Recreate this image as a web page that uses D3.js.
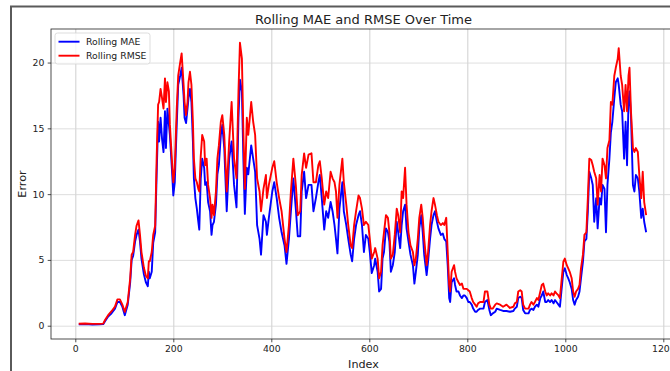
<!DOCTYPE html>
<html lang="en">
<head>
<meta charset="UTF-8">
<script src="https://d3js.org/d3.v7.min.js"></script>
<title>Rolling MAE and RMSE</title>
<style>
  html, body { margin: 0; padding: 0; background: #fff; overflow: hidden; }
  svg { display: block; font-family: "DejaVu Sans", sans-serif; }
</style>
</head>
<body>
<script>
// values (index, rolling MAE, rolling RMSE)
var index = [7,20,35,50,57,61,67,74,81,86,91,96,101,107,112,115,118,122,125,129,132,135,140,144,148,150,152,156,159,163,
  166,169,171,174,177,180,183,185,188,191,193,197,200,203,207,210,214,217,221,223,226,229,231,234,237,240,242,245,248,251,
  253,256,259,263,265,268,271,275,278,280,283,287,290,293,297,300,304,309,314,319,324,329,333,336,340,343,346,350,353,359,
  363,367,371,376,379,384,389,391,395,402,406,411,416,421,427,431,436,440,445,450,454,459,462,467,471,476,482,486,491,496,
  499,503,508,512,516,521,525,529,532,535,539,545,548,553,557,562,565,569,573,578,581,585,589,593,598,601,605,610,612,617,
  620,624,627,630,634,638,641,644,648,652,656,659,663,666,669,673,676,680,684,689,692,695,699,702,706,709,712,717,720,724,
  727,731,734,738,741,746,750,753,757,760,763,765,768,773,775,778,782,785,789,792,795,799,802,805,809,812,816,819,822,826,
  833,836,841,845,848,852,857,860,867,873,880,887,894,897,901,904,908,911,914,918,925,928,931,935,938,942,945,949,952,955,
  959,962,965,969,972,976,979,982,986,989,992,996,999,1003,1006,1009,1013,1016,1019,1022,1026,1029,1032,1036,1039,1043,1046,1049,1053,1056,
  1059,1063,1066,1070,1073,1076,1080,1083,1086,1090,1093,1096,1100,1103,1107,1109,1113,1116,1120,1123,1126,1129,1131,1134,1138,1141,1144,1148,1151,1155,
  1158,1161,1165];

var mae = [0.10,0.12,0.09,0.10,0.12,0.35,0.70,0.95,1.3,1.8,1.8,1.45,0.8,1.6,3.3,5.0,5.3,6.4,6.9,7.3,6.4,5.1,3.9,3.3,3.0,4.1,3.6,4.1,6.3,7.1,
  11.5,15.5,14.0,15.8,14.2,13.2,16.3,13.5,16.5,15.3,14.5,12.0,9.9,10.9,15.3,18.3,19.0,19.6,17.5,15.8,15.4,16.5,17.3,18.0,17.0,14.0,11.2,9.7,8.9,7.9,
  7.3,11.2,12.7,12.0,10.7,10.9,9.4,8.7,6.9,7.65,7.9,9.2,11.5,12.2,14.5,15.25,13.5,8.7,12.7,14.0,10.7,9.0,15.8,18.7,17.8,12.7,8.5,12.0,11.5,13.7,
  12.7,11.7,7.65,6.6,5.4,8.4,7.9,6.9,8.2,10.2,10.9,9.7,8.2,7.1,6.1,4.7,6.6,8.7,11.2,8.9,6.8,6.8,10.2,11.7,9.7,10.7,10.7,8.7,9.7,10.9,
  11.45,9.7,7.3,8.7,8.2,9.4,8.7,7.65,6.6,5.5,8.9,10.9,8.7,7.65,6.6,5.4,4.9,6.6,7.65,8.4,8.7,7.65,5.6,6.9,6.6,5.6,4.0,4.6,5.1,4.1,
  2.6,2.8,5.1,5.6,7.4,7.1,6.4,4.1,4.6,5.6,7.9,7.1,5.9,7.65,8.7,9.2,7.4,6.4,5.4,4.6,3.2,4.1,5.4,7.4,8.4,7.1,5.4,3.85,4.9,6.6,
  7.65,8.4,8.7,7.9,7.4,6.9,7.0,6.6,6.4,4.6,2.1,1.8,3.3,3.6,3.1,2.6,2.6,2.3,2.1,2.3,2.3,2.1,1.8,1.8,1.6,1.3,1.06,1.06,1.2,1.3,
  1.3,1.8,1.95,1.2,0.8,0.94,1.06,1.3,1.2,1.12,1.12,1.06,1.12,1.3,1.44,2.1,2.2,2.1,1.2,0.94,0.94,1.2,1.3,1.2,1.44,1.6,1.44,2.1,2.3,2.6,
  1.8,1.8,1.95,1.8,1.95,1.7,1.95,1.8,1.6,1.44,2.6,4.1,4.36,3.85,3.6,3.3,2.8,1.95,1.6,1.95,2.2,2.6,3.6,4.86,6.4,6.6,8.7,11.7,11.2,10.7,
  7.9,9.7,7.4,9.7,9.2,10.7,10.4,7.1,10.7,12.7,14.7,15.5,17.3,18.5,18.8,18.3,16.8,16.3,12.7,15.5,12.2,17.0,17.8,16.0,10.7,10.2,11.45,11.2,10.2,8.2,
  8.9,7.9,7.1];

var rmse = [0.15,0.17,0.14,0.14,0.16,0.45,0.80,1.1,1.45,2.0,2.0,1.6,1.05,1.8,3.6,5.4,5.6,6.9,7.6,8.0,6.9,5.6,4.4,3.8,3.6,4.9,4.9,5.6,6.9,7.6,
  12.7,16.8,17.0,18.0,17.3,16.5,18.8,17.0,18.5,17.8,15.3,12.7,10.9,12.0,16.5,19.0,20.0,20.7,18.3,17.0,16.0,17.0,18.5,19.3,18.3,15.5,12.7,11.2,10.9,10.4,
  10.2,12.9,14.5,14.0,12.2,12.7,10.7,9.7,8.2,9.2,8.4,10.2,12.7,13.7,15.5,16.0,14.5,10.2,14.0,17.0,12.7,11.2,17.8,21.5,20.3,14.7,10.4,15.8,14.5,17.0,
  15.5,14.5,11.2,10.2,8.7,10.4,11.45,9.7,10.7,12.0,12.5,10.9,9.7,8.7,6.6,5.6,7.65,10.2,12.7,10.7,8.4,8.7,11.45,13.1,12.0,13.0,13.1,10.9,10.9,12.2,
  12.5,11.2,9.2,10.2,9.7,11.7,11.2,10.9,10.2,8.2,10.7,12.7,10.9,9.2,7.65,6.1,5.9,7.65,8.7,9.9,9.7,8.9,7.65,7.9,7.65,6.6,5.1,5.6,5.9,5.1,
  3.6,4.1,6.1,7.1,8.4,8.2,7.1,5.1,5.4,6.9,8.9,8.4,7.1,10.2,9.7,12.0,9.2,7.1,6.1,5.6,4.6,5.1,6.6,8.2,9.2,8.2,6.6,4.6,5.6,7.65,
  8.7,9.7,9.2,8.4,7.9,7.65,7.8,7.65,8.2,5.6,3.1,2.6,4.1,4.6,4.1,3.6,3.3,3.1,3.2,2.8,2.8,2.8,2.7,2.6,2.1,1.8,1.6,1.44,1.7,1.8,
  1.8,2.6,2.6,1.6,1.3,1.3,1.6,1.7,1.6,1.44,1.6,1.35,1.44,1.7,1.8,2.6,2.7,2.6,1.6,1.3,1.3,1.6,1.8,1.6,1.8,2.1,1.95,2.6,3.1,3.2,
  2.6,2.3,2.46,2.3,2.46,2.3,2.6,2.46,2.3,2.1,3.3,4.86,5.1,4.6,4.36,4.1,3.6,2.6,2.2,2.6,2.8,3.1,4.36,5.4,6.9,7.1,9.7,12.7,12.6,12.2,
  11.7,11.2,9.2,11.45,10.2,12.7,12.2,11.2,13.5,14.1,17.0,16.8,19.0,19.6,20.3,21.1,19.0,18.3,16.3,18.3,16.3,19.0,19.6,16.3,13.5,13.2,13.5,13.2,11.45,9.7,
  11.7,9.4,8.4];

var xTicks = [0, 200, 400, 600, 800, 1000, 1200];
var yTicks = [0, 5, 10, 15, 20];
var seriesNames = ["Rolling MAE", "Rolling RMSE"];
var seriesColors = ["#0000ff", "#ff0000"];

var width = 670, height = 371;
var plotLeft = 51, plotRight = 676, plotTop = 29, plotBottom = 339;

var svg = d3.select("body").append("svg")
    .attr("width", width)
    .attr("height", height);

svg.append("rect").attr("width", width).attr("height", height).attr("fill", "#fff");

// frame of the notebook cell
svg.append("path")
    .attr("d", "M11," + height + "V6.5H" + width)
    .attr("fill", "none")
    .attr("stroke", "#5a5a5a")
    .attr("stroke-width", 2);

var x = d3.scaleLinear().domain([-49.6, 1225.9]).range([plotLeft, plotRight]);
var y = d3.scaleLinear().domain([-1.01, 22.55]).range([plotBottom, plotTop]);

// grid
svg.append("g")
    .attr("transform", "translate(0," + plotBottom + ")")
    .call(d3.axisBottom(x).tickValues(xTicks).tickSize(-(plotBottom - plotTop)).tickFormat(""))
    .call(function (g) { g.select(".domain").remove(); })
    .selectAll("line").attr("stroke", "#c4c4c4").attr("stroke-width", 0.8);

svg.append("g")
    .attr("transform", "translate(" + plotLeft + ",0)")
    .call(d3.axisLeft(y).tickValues(yTicks).tickSize(-(plotRight - plotLeft)).tickFormat(""))
    .call(function (g) { g.select(".domain").remove(); })
    .selectAll("line").attr("stroke", "#d6d6d6").attr("stroke-width", 0.8);

// lines
var line = d3.line()
    .x(function (d) { return x(d[0]); })
    .y(function (d) { return y(d[1]); });

[mae, rmse].forEach(function (vals, k) {
    svg.append("path")
        .datum(index.map(function (ix, i) { return [ix, vals[i]]; }))
        .attr("d", line)
        .attr("fill", "none")
        .attr("stroke", seriesColors[k])
        .attr("stroke-width", 1.9)
        .attr("stroke-linejoin", "round");
});

// spines
svg.append("rect")
    .attr("x", plotLeft).attr("y", plotTop)
    .attr("width", plotRight - plotLeft).attr("height", plotBottom - plotTop)
    .attr("fill", "none")
    .attr("stroke", "#222")
    .attr("stroke-width", 0.8);

// axes
var xAxis = svg.append("g")
    .attr("transform", "translate(0," + plotBottom + ")")
    .call(d3.axisBottom(x).tickValues(xTicks).tickFormat(d3.format("d")).tickSize(3.3).tickPadding(3.3));
var yAxis = svg.append("g")
    .attr("transform", "translate(" + plotLeft + ",0)")
    .call(d3.axisLeft(y).tickValues(yTicks).tickFormat(d3.format("d")).tickSize(3.3).tickPadding(3.3));

[xAxis, yAxis].forEach(function (g) {
    g.select(".domain").remove();
    g.selectAll("line").attr("stroke", "#222").attr("stroke-width", 0.8);
    g.selectAll("text")
        .attr("fill", "#222")
        .style("font-family", "'DejaVu Sans', sans-serif")
        .style("font-size", "9.3px");
});

// title and labels
svg.append("text")
    .attr("x", (plotLeft + plotRight) / 2).attr("y", 23.5)
    .attr("text-anchor", "middle")
    .style("font-size", "13px")
    .attr("fill", "#222")
    .text("Rolling MAE and RMSE Over Time");

svg.append("text")
    .attr("x", (plotLeft + plotRight) / 2).attr("y", 368)
    .attr("text-anchor", "middle")
    .style("font-size", "11.2px")
    .attr("fill", "#222")
    .text("Index");

svg.append("text")
    .attr("transform", "translate(26," + (plotTop + plotBottom) / 2 + ") rotate(-90)")
    .attr("text-anchor", "middle")
    .style("font-size", "11.2px")
    .attr("fill", "#222")
    .text("Error");

// legend
var legend = svg.append("g").attr("transform", "translate(55,33)");
legend.append("rect")
    .attr("width", 95).attr("height", 31)
    .attr("rx", 2.5)
    .attr("fill", "#fff").attr("fill-opacity", 0.8)
    .attr("stroke", "#d4d4d4").attr("stroke-width", 0.8);

seriesNames.forEach(function (name, i) {
    var row = legend.append("g").attr("transform", "translate(0," + (8.7 + i * 14) + ")");
    row.append("line")
        .attr("x1", 3.5).attr("x2", 24.5)
        .attr("stroke", seriesColors[i]).attr("stroke-width", 1.9);
    row.append("text")
        .attr("x", 31).attr("y", 3.3)
        .style("font-size", "9.3px")
        .attr("fill", "#222")
        .text(name);
});
</script>
</body>
</html>
